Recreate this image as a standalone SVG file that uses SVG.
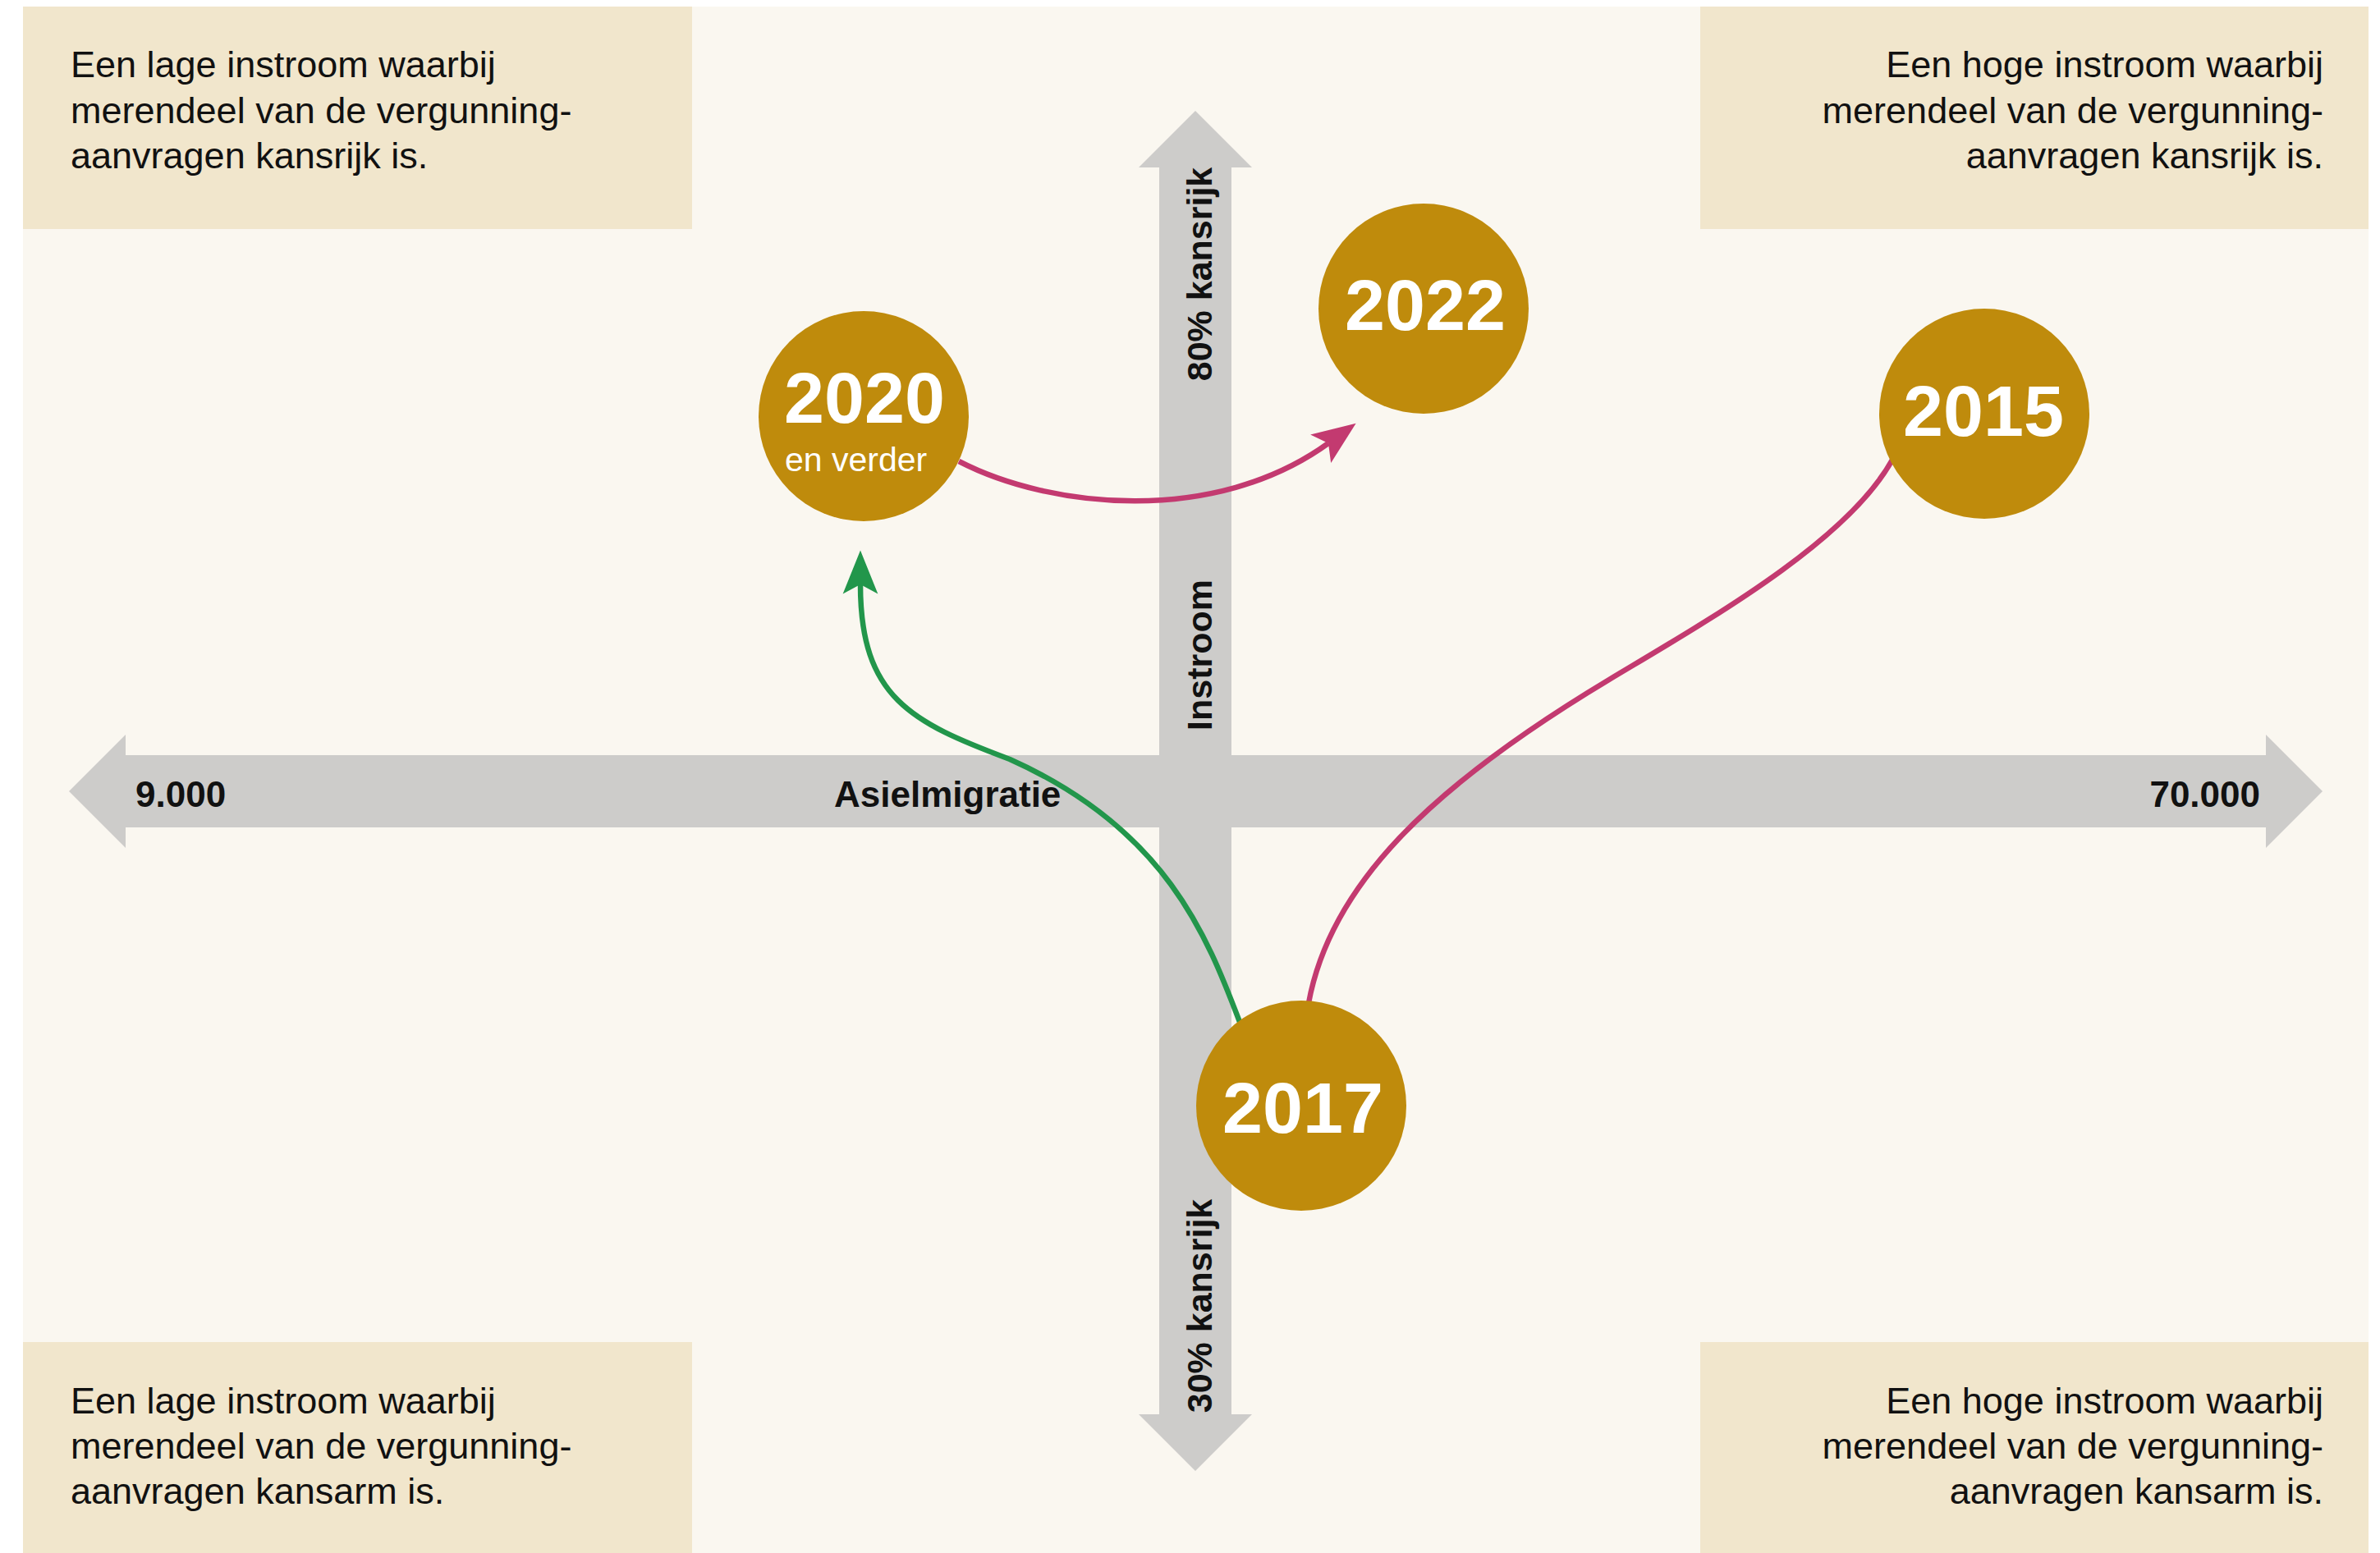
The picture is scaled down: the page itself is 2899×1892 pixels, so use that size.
<svg xmlns="http://www.w3.org/2000/svg" width="2899" height="1892" viewBox="0 0 2899 1892">
<style>
.box{fill:#F1E6CC}
.bt{font-family:"Liberation Sans",Arial,sans-serif;font-size:45px;fill:#111}
.axis{fill:#CDCCCA}
.al{font-family:"Liberation Sans",Arial,sans-serif;font-size:44px;font-weight:bold;fill:#111}
.vl{font-family:"Liberation Sans",Arial,sans-serif;font-size:43px;font-weight:bold;fill:#111;text-anchor:middle}
.yc{fill:#BF8B0C}
.yt{font-family:"Liberation Sans",Arial,sans-serif;font-size:88px;font-weight:bold;fill:#fff;text-anchor:middle}
.ys{font-family:"Liberation Sans",Arial,sans-serif;font-size:41px;fill:#fff}
.mag{fill:none;stroke:#C33A70;stroke-width:6.5}
.grn{fill:none;stroke:#22964B;stroke-width:6.5}
</style>
<defs>
<marker id="am" markerUnits="userSpaceOnUse" markerWidth="60" markerHeight="60" viewBox="-2 -22 52 44" refX="10" refY="0" orient="auto"><path d="M46,0 L0,-18.5 L10,0 L0,18.5 Z" fill="#C33A70"/></marker>
<marker id="ag" markerUnits="userSpaceOnUse" markerWidth="60" markerHeight="60" viewBox="-2 -22 52 44" refX="10" refY="0" orient="auto"><path d="M46,0 L0,-18.5 L10,0 L0,18.5 Z" fill="#22964B"/></marker>
</defs>
<rect x="0" y="0" width="2899" height="1892" fill="#ffffff"/>
<rect x="28" y="8" width="2857" height="1884" fill="#FAF7F0"/>

<g id="box-tl"><rect class="box" x="28" y="8" width="815" height="271"/>
<text class="bt" x="86" y="94">Een lage instroom waarbij</text>
<text class="bt" x="86" y="150">merendeel van de vergunning-</text>
<text class="bt" x="86" y="205">aanvragen kansrijk is.</text></g>

<g id="box-tr"><rect class="box" x="2071" y="8" width="814" height="271"/>
<text class="bt" x="2830" y="94" text-anchor="end">Een hoge instroom waarbij</text>
<text class="bt" x="2830" y="150" text-anchor="end">merendeel van de vergunning-</text>
<text class="bt" x="2830" y="205" text-anchor="end">aanvragen kansrijk is.</text></g>

<g id="box-bl"><rect class="box" x="28" y="1635" width="815" height="257"/>
<text class="bt" x="86" y="1722">Een lage instroom waarbij</text>
<text class="bt" x="86" y="1777">merendeel van de vergunning-</text>
<text class="bt" x="86" y="1832">aanvragen kansarm is.</text></g>

<g id="box-br"><rect class="box" x="2071" y="1635" width="814" height="257"/>
<text class="bt" x="2830" y="1722" text-anchor="end">Een hoge instroom waarbij</text>
<text class="bt" x="2830" y="1777" text-anchor="end">merendeel van de vergunning-</text>
<text class="bt" x="2830" y="1832" text-anchor="end">aanvragen kansarm is.</text></g>

<g id="axis-h">
<path class="axis" d="M84,964 L153,895 L153,920 L2760,920 L2760,895 L2829,964 L2760,1033 L2760,1008 L153,1008 L153,1033 Z"/>
<text class="al" x="165" y="983">9.000</text>
<text class="al" x="1016" y="983">Asielmigratie</text>
<text class="al" x="2753" y="983" text-anchor="end">70.000</text>
</g>
<g id="axis-v">
<path class="axis" d="M1456,135 L1525,204 L1500,204 L1500,1723 L1525,1723 L1456,1792 L1387,1723 L1412,1723 L1412,204 L1387,204 Z"/>
<text class="vl" transform="translate(1476,334) rotate(-90)">80% kansrijk</text>
<text class="vl" transform="translate(1476,798) rotate(-90)">Instroom</text>
<text class="vl" transform="translate(1476,1591) rotate(-90)">30% kansrijk</text>
</g>

<g id="connectors">
<path class="mag" d="M1168,562 C1280,620 1480,640 1618,540" marker-end="url(#am)"/>
<path class="grn" d="M1510,1245 C1470,1140 1420,1010 1230,925 C1110,880 1048,850 1048,712" marker-end="url(#ag)"/>
<path class="mag" d="M1594,1222 C1620,1080 1740,960 1960,828 C2080,756 2250,660 2305,560"/>
</g>

<g id="n2020"><circle class="yc" cx="1052" cy="507" r="128"/>
<text class="yt" x="1053" y="515">2020</text>
<text class="ys" x="956" y="574">en verder</text></g>
<g id="n2022"><circle class="yc" cx="1734" cy="376" r="128"/>
<text class="yt" x="1736" y="402">2022</text></g>
<g id="n2015"><circle class="yc" cx="2417" cy="504" r="128"/>
<text class="yt" x="2416" y="531">2015</text></g>
<g id="n2017"><circle class="yc" cx="1585" cy="1347" r="128"/>
<text class="yt" x="1587" y="1380">2017</text></g>
</svg>
